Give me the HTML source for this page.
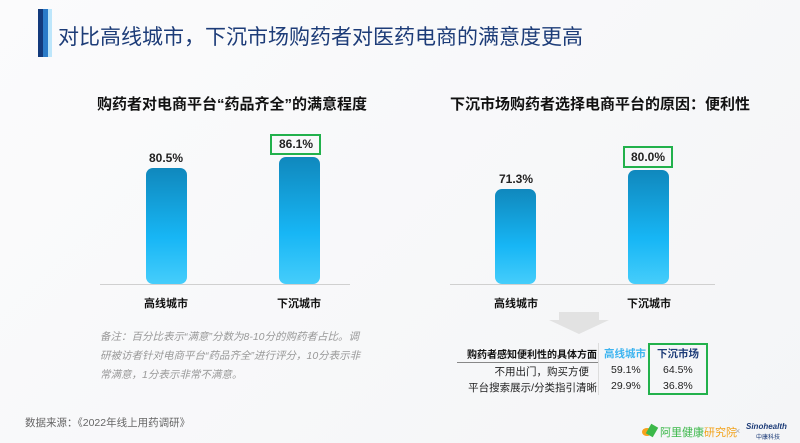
<!DOCTYPE html>
<html><head><meta charset="utf-8"><style>
*{margin:0;padding:0;box-sizing:border-box}
body{width:800px;height:443px;overflow:hidden;background:linear-gradient(135deg,#fbfbfc,#f4f5f7);font-family:"Liberation Sans","Noto Sans CJK SC",sans-serif;position:relative}
.a{position:absolute;white-space:nowrap}
.bar{position:absolute;border-radius:7px;background:linear-gradient(#1088bd,#17b6f5 60%,#45cdfb)}
.v{position:absolute;font-weight:bold;font-size:12px;color:#222;text-align:center;width:60px}
.lb{position:absolute;font-weight:bold;font-size:11px;color:#111;text-align:center;width:80px}
.box{position:absolute;border:2px solid #22b14c}
.ax{position:absolute;height:1px;background:#d0d0d0}
.t{font-size:10.5px}
</style></head><body>
<div class="a" style="left:38px;top:9px;width:5px;height:48px;background:#133a7c"></div>
<div class="a" style="left:43px;top:9px;width:5px;height:48px;background:#2b7bc8"></div>
<div class="a" style="left:48px;top:9px;width:4px;height:48px;background:#bde6fb"></div>
<div class="a" style="left:58px;top:21px;font-size:21px;color:#1d3c78">对比高线城市，下沉市场购药者对医药电商的满意度更高</div>

<div class="a" style="left:82px;top:93px;width:300px;text-align:center;font-size:15px;font-weight:bold;color:#111">购药者对电商平台“药品齐全”的满意程度</div>
<div class="a" style="left:440px;top:93px;width:320px;text-align:center;font-size:15px;font-weight:bold;color:#111">下沉市场购药者选择电商平台的原因：便利性</div>

<div class="ax" style="left:100px;top:284px;width:250px"></div>
<div class="bar" style="left:146px;top:168px;width:41px;height:116px"></div>
<div class="bar" style="left:279px;top:157px;width:41px;height:127px"></div>
<div class="v" style="left:136px;top:151px">80.5%</div>
<div class="box" style="left:270px;top:134px;width:51px;height:21px"></div>
<div class="v" style="left:266px;top:137px">86.1%</div>
<div class="lb" style="left:126px;top:295px">高线城市</div>
<div class="lb" style="left:259px;top:295px">下沉城市</div>

<div class="ax" style="left:450px;top:284px;width:265px"></div>
<div class="bar" style="left:495px;top:189px;width:41px;height:95px"></div>
<div class="bar" style="left:628px;top:170px;width:41px;height:114px"></div>
<div class="v" style="left:486px;top:172px">71.3%</div>
<div class="box" style="left:623px;top:146px;width:50px;height:22px"></div>
<div class="v" style="left:618px;top:150px">80.0%</div>
<div class="lb" style="left:476px;top:295px">高线城市</div>
<div class="lb" style="left:609px;top:295px">下沉城市</div>

<div class="a" style="left:100px;top:328px;font-size:10.5px;line-height:19px;color:#999;font-style:italic">备注：百分比表示“满意”分数为8-10分的购药者占比。调<br>研被访者针对电商平台“药品齐全”进行评分，10分表示非<br>常满意，1分表示非常不满意。</div>
<div class="a" style="left:25px;top:415px;font-size:10.5px;color:#666">数据来源：《2022年线上用药调研》</div>

<svg class="a" style="left:545px;top:310px" width="70" height="26"><polygon points="14,2 54,2 54,10 64,10 34,24 4,10 14,10" fill="#e2e2e2"/></svg>

<div class="a t" style="left:457px;top:346px;width:140px;text-align:right;font-weight:bold;color:#111;font-size:10px">购药者感知便利性的具体方面</div>
<div class="a" style="left:457px;top:362px;width:141px;height:1px;background:#888"></div>
<div class="a" style="left:598px;top:343px;width:1px;height:52px;background:#ddd"></div>
<div class="a t" style="left:604px;top:346px;font-weight:bold;color:#3db4f0">高线城市</div>
<div class="a t" style="left:657px;top:346px;font-weight:bold;color:#1d3c78">下沉市场</div>
<div class="box" style="left:648px;top:343px;width:60px;height:52px"></div>
<div class="a t" style="left:457px;top:364px;width:132px;text-align:right;color:#222">不用出门，购买方便</div>
<div class="a t" style="left:457px;top:380px;width:140px;text-align:right;color:#222">平台搜索展示/分类指引清晰</div>
<div class="a t" style="left:611px;top:364px;color:#222">59.1%</div>
<div class="a t" style="left:611px;top:380px;color:#222">29.9%</div>
<div class="a t" style="left:663px;top:364px;color:#222">64.5%</div>
<div class="a t" style="left:663px;top:380px;color:#222">36.8%</div>

<div class="a" style="left:642px;top:428px;width:10px;height:8px;border-radius:50%;background:#f7a21b"></div>
<div class="a" style="left:648px;top:425px;width:8px;height:11px;background:#3cb84a;transform:rotate(30deg)"></div>
<div class="a" style="left:660px;top:424px;font-size:11px;color:#3cb84a">阿里健康<span style="color:#f2a31b">研究院</span></div>
<div class="a" style="left:735px;top:426px;font-size:9px;color:#aaa">×</div>
<div class="a" style="left:746px;top:422px;font-size:8px;font-style:italic;font-weight:bold;color:#1d3c78">Sinohealth</div>
<div class="a" style="left:756px;top:432px;font-size:6px;color:#1d3c78">中康科技</div>
</body></html>
